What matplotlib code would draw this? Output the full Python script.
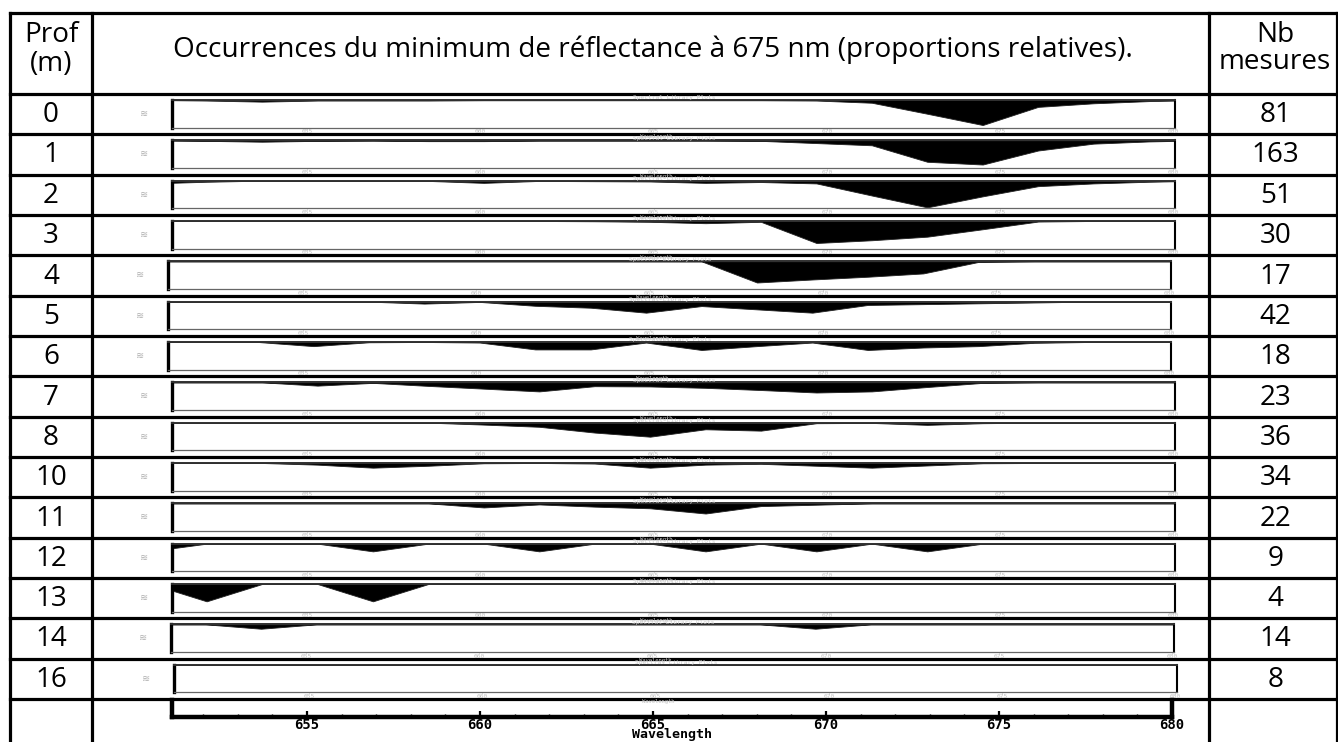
import matplotlib
matplotlib.use('Agg')
import matplotlib.pyplot as plt
from matplotlib import ticker

plt.rcParams['font.family'] = ['Open Sans', 'DejaVu Sans']

profondeurs = ['0', '1', '2', '3', '4', '5', '6', '7', '8', '10', '11', '12', '13', '14', '16']
nb_mesures = [81, 163, 51, 30, 17, 42, 18, 23, 36, 34, 22, 9, 4, 14, 8]

# bandes du spectro (nm)
longueurs_onde = [650.5, 652.1, 653.7, 655.3, 656.9, 658.5, 660.1, 661.7, 663.3, 664.9,
                  666.5, 668.1, 669.7, 671.3, 672.9, 674.5, 676.1, 677.7, 679.3, 680.9]

# proportions relatives (hauteur de la zone noire, 0 = haut du cadre, 1 = bas)
occ_0m = [0, .02, .06, .02, .02, .02, .01, .01, .01, .01, .01, .01, .02, .10, .50, .91, .25, .12, .04, 0]
occ_1m = [0, .02, .05, .02, .01, .03, .03, .01, .01, .01, .01, .02, .10, .18, .78, .88, .37, .12, .04, 0]
occ_2m = [.10, .04, 0, 0, 0, .01, .08, .01, .02, .03, .08, .05, .10, .54, .97, .57, .20, .10, .04, 0]
occ_3m = [0, 0, 0, 0, 0, 0, 0, 0, .01, .03, .08, .03, .80, .70, .57, .30, .02, 0, 0, 0]
occ_4m = [0, 0, 0, 0, 0, 0, 0, 0, 0, 0, 0, .77, .66, .56, .44, .02, 0, 0, 0, 0]
occ_5m = [0, 0, 0, 0, 0, .07, .01, .15, .22, .40, .16, .28, .40, .12, .09, .06, .03, 0, 0, 0]
occ_6m = [0, 0, 0, .15, .01, 0, .02, .27, .27, .02, .29, .15, .02, .29, .20, .15, .03, 0, 0, 0]
occ_7m = [0, 0, 0, .12, .02, .13, .23, .33, .14, .15, .20, .28, .37, .33, .17, .02, 0, 0, 0, 0]
occ_8m = [0, 0, 0, 0, 0, 0, .07, .15, .36, .51, .24, .29, .02, .01, .08, .02, 0, 0, 0, 0]
occ_10m = [0, 0, 0, .06, .17, .10, .01, 0, .02, .17, .06, .03, .10, .17, .09, .01, 0, 0, 0, 0]
occ_11m = [0, 0, 0, 0, 0, 0, .15, .04, .12, .18, .37, .10, .05, 0, 0, 0, 0, 0, 0, 0]
occ_12m = [.27, 0, 0, 0, .28, 0, 0, .28, 0, 0, .28, 0, .28, 0, .28, 0, 0, 0, 0, 0]
occ_13m = [0, .63, 0, 0, .63, 0, 0, 0, 0, 0, 0, 0, 0, 0, 0, 0, 0, 0, 0, 0]
occ_14m = [0, 0, .16, 0, 0, 0, 0, 0, 0, 0, 0, 0, .16, 0, 0, 0, 0, 0, 0, 0]
occ_16m = [0] * 20

occurrences = [occ_0m, occ_1m, occ_2m, occ_3m, occ_4m, occ_5m, occ_6m, occ_7m,
               occ_8m, occ_10m, occ_11m, occ_12m, occ_13m, occ_14m, occ_16m]

graduations = [655, 660, 665, 670, 675, 680]
titre = "Occurrences du minimum de réflectance à 675 nm (proportions relatives)."

# ---- mise en page (pixels) ----
W, H = 1338, 742
x_bord_g, x_col1, x_col2, x_bord_d = 10, 92, 1209, 1336.5
y_haut, y_entete = 13, 94
h_ligne = (699 - y_entete) / 15
x_cadre_g, x_cadre_d = 172, 1175
decalage = [0, 0, 0, 0, -4, -4, -4, 0, 0, 0, 0, 0, 0, -1, 2]
xlim = (651.1, 680.05)
gris = '#c2c2c2'
mono = 'DejaVu Sans Mono'

fig = plt.figure(figsize=(W / 100, H / 100), dpi=100)
fond = fig.add_axes([0, 0, 1, 1])
fond.set_xlim(0, W)
fond.set_ylim(H, 0)
fond.axis('off')

lw_tab = 2.3
ys = [y_haut, y_entete] + [y_entete + h_ligne * (i + 1) for i in range(15)]
for y in ys:
    fond.plot([x_bord_g, x_bord_d], [y, y], color='black', lw=lw_tab, solid_capstyle='projecting')
for x in [x_bord_g, x_col1, x_col2, x_bord_d]:
    fond.plot([x, x], [y_haut, H + 5], color='black', lw=lw_tab)

# titre : taille ajustee pour occuper la largeur vue sur l'original
t = fond.text((x_col1 + x_col2) / 2 + 2, 50, titre, ha='center', va='center', fontsize=18)
fig.canvas.draw()
fs = 18 * 960 / t.get_window_extent().width
t.set_fontsize(fs)

xc1 = (x_bord_g + x_col1) / 2
xc3 = (x_col2 + x_bord_d) / 2
fond.text(xc1, 35, 'Prof', ha='center', va='center', fontsize=fs)
fond.text(xc1, 64, '(m)', ha='center', va='center', fontsize=fs)
fond.text(xc3 + 3, 35, 'Nb', ha='center', va='center', fontsize=fs)
fond.text(xc3 + 2, 62, 'mesures', ha='center', va='center', fontsize=fs)

for i, (prof, n, occ) in enumerate(zip(profondeurs, nb_mesures, occurrences)):
    y0 = y_entete + h_ligne * i
    yc = y0 + h_ligne / 2
    fond.text(xc1, yc + 1, prof, ha='center', va='center', fontsize=fs)
    fond.text(xc3 + 3, yc + 1, str(n), ha='center', va='center', fontsize=fs)
    fond.text(144 + decalage[i], y0 + 20, '≋', ha='center', va='center', fontsize=7,
              color='#b0b0b0', family='DejaVu Sans')

    top, bas = y0 + 6, y0 + 33.5
    xg = x_cadre_g + decalage[i]
    xd = x_cadre_d + decalage[i]
    ax = fig.add_axes([xg / W, 1 - bas / H, (xd - xg) / W, (bas - top) / H])
    ax.fill_between(longueurs_onde, 0, occ, color='black', lw=0.6, edgecolor='#222222')
    ax.set_xlim(*xlim)
    ax.set_ylim(1, 0)
    ax.set_yticks([])
    ax.set_xticks(graduations)
    ax.set_xticklabels([str(g) for g in graduations], family=mono)
    ax.tick_params(axis='x', length=1.2, width=0.4, color=gris, labelsize=4.5,
                   labelcolor=gris, pad=0.2)
    ax.spines['left'].set_linewidth(2.4)
    ax.spines['top'].set_linewidth(1.4)
    ax.spines['top'].set_color('#303030')
    ax.spines['right'].set_linewidth(1.5)
    ax.spines['bottom'].set_linewidth(0.9)
    ax.spines['bottom'].set_color('#666666')
    ax.text(664.6, 1.24, 'Wavelength', ha='left', va='top', fontsize=4,
            color=gris, family=mono, clip_on=False)
    ax.text(665.6, -0.02, 'Spectral Library Plots', ha='center', va='baseline',
            fontsize=4.5, color='#cccccc', family=mono, clip_on=False)

# axe du bas
axb = fig.add_axes([x_cadre_g / W, 1 - 717 / H, (1172 - x_cadre_g) / W, (717 - 700) / H])
axb.set_xlim(xlim[0], 680.0)
axb.set_ylim(0, 1)
axb.set_yticks([])
axb.patch.set_alpha(0)
axb.spines['top'].set_visible(False)
for s in ['bottom', 'left', 'right']:
    axb.spines[s].set_linewidth(3.2)
axb.set_xticks(graduations)
axb.xaxis.set_minor_locator(ticker.MultipleLocator(1))
axb.set_xticklabels([str(g) for g in graduations], family=mono,
                    fontweight='bold', fontsize=10)
axb.tick_params(axis='x', which='major', direction='in', length=4, width=1.6, pad=1.0)
axb.tick_params(axis='x', which='minor', direction='in', length=2, width=1.0)
axb.text(664.4, -1.40, 'Wavelength', ha='left', va='bottom', fontsize=9.5,
         family=mono, fontweight='bold')

fig.savefig('out.png', dpi=100)
